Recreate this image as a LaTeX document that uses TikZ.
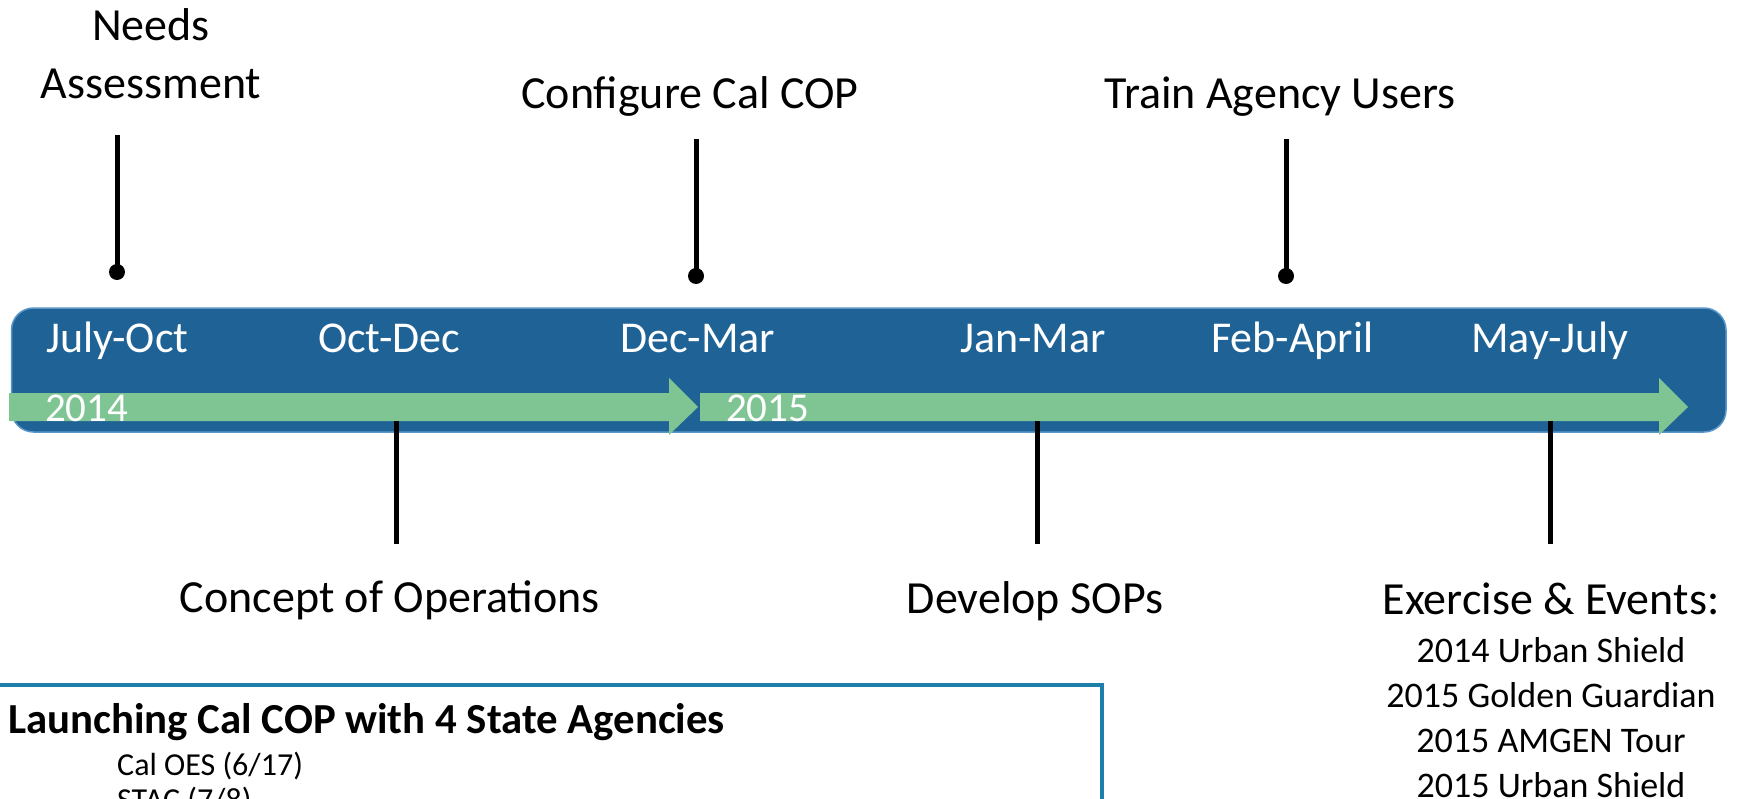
\documentclass[tikz,border=0pt]{standalone}
\usepackage{fontspec}
\setmainfont{Carlito}
\definecolor{barblue}{RGB}{31,99,150}
\definecolor{baredge}{RGB}{90,150,200}
\definecolor{bargreen}{RGB}{127,196,147}
\definecolor{boxblue}{RGB}{30,128,170}
\tikzset{
  lbl/.style={font=\fontsize{46bp}{56bp}\selectfont, inner sep=0pt, anchor=base},
  mon/.style={font=\fontsize{44bp}{52bp}\selectfont, text=white, inner sep=0pt, anchor=base west},
  yr/.style={font=\fontsize{41bp}{48bp}\selectfont, text=white, inner sep=0pt, anchor=base west},
  evt/.style={font=\fontsize{36bp}{44bp}\selectfont, inner sep=0pt, anchor=base},
  stem/.style={line width=5bp, black},
  dotend/.style={black},
  flow/.style={fill=bargreen},
  title/.style={font=\bfseries\fontsize{42.8bp}{50bp}\selectfont, inner sep=0pt, anchor=base west},
  item/.style={font=\fontsize{32bp}{40bp}\selectfont, inner sep=0pt, anchor=base west},
}
\begin{document}
\begin{tikzpicture}[x=1bp,y=-1bp]
\useasboundingbox (0,0) rectangle (1737,799);
\clip (0,0) rectangle (1737,799);
% bar
\draw[fill=barblue, draw=baredge, line width=1.5bp, rounded corners=22bp] (11.5,308) rectangle (1726,432);
% green arrows
\fill[flow] (9,393) -- (669,393) -- (669,378) -- (698,407) -- (669,435) -- (669,421) -- (9,421) -- cycle;
\fill[flow] (700,393) -- (1659,393) -- (1659,378) -- (1688,407) -- (1659,435) -- (1659,421) -- (700,421) -- cycle;
% month labels
\node[mon] (m1) at (46,352) {July-Oct};
\node[mon] (m2) at (318,352) {Oct-Dec};
\node[mon] (m3) at (620,352) {Dec-Mar};
\node[mon] (m4) at (960,352) {Jan-Mar};
\node[mon] (m5) at (1211,352) {Feb-April};
\node[mon] (m6) at (1471,352) {May-July};
\node[yr] (y1) at (45,421) {2014};
\node[yr] (y2) at (726,421) {2015};
% top labels
\node[lbl] (na1) at (151,41) {Needs};
\node[lbl] (na2) at (151,98) {Assessment};
\node[lbl] (cfg) at (690,108) {Configure Cal COP};
\node[lbl] (trn) at (1280,108) {Train Agency Users};
% top stems
\coordinate (naT) at (117,135); \coordinate (naB) at (117,272);
\coordinate (cfT) at (696,139); \coordinate (cfB) at (696,276);
\coordinate (trT) at (1286,139); \coordinate (trB) at (1286,276);
\draw[stem] (naT) -- (naB); \fill[dotend] (naB) circle (8bp);
\draw[stem] (cfT) -- (cfB); \fill[dotend] (cfB) circle (8bp);
\draw[stem] (trT) -- (trB); \fill[dotend] (trB) circle (8bp);
% bottom stems
\coordinate (coT) at (396,421); \coordinate (coB) at (396,544);
\coordinate (soT) at (1037,421); \coordinate (soB) at (1037,544);
\coordinate (exT) at (1550,421); \coordinate (exB) at (1550,544);
\draw[stem] (coT) -- (coB);
\draw[stem] (soT) -- (soB);
\draw[stem] (exT) -- (exB);
% bottom labels
\node[lbl] (con) at (390,612) {Concept of Operations};
\node[lbl] (sop) at (1035,613) {Develop SOPs};
\node[lbl] (exe) at (1551,614) {Exercise \& Events:};
\node[evt] (e1) at (1551,662) {2014 Urban Shield};
\node[evt] (e2) at (1551,707) {2015 Golden Guardian};
\node[evt] (e3) at (1551,752) {2015 AMGEN Tour};
\node[evt] (e4) at (1551,797) {2015 Urban Shield};
% box
\draw[boxblue, line width=3.5bp] (-10,685) rectangle (1102,900);
\node[title] (bt) at (8,733) {Launching Cal COP with 4 State Agencies};
\node[item] (i1) at (117,775) {Cal OES (6/17)};
\node[item] (i2) at (117,810) {STAC (7/8)};
\end{tikzpicture}
\end{document}
